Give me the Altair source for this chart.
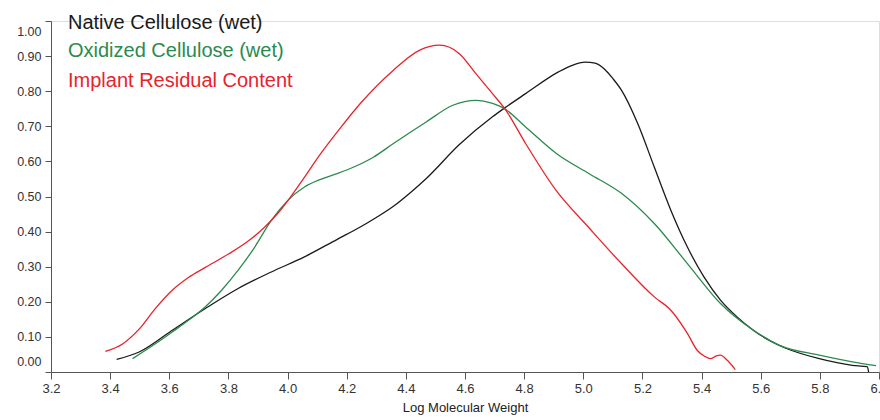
import altair as alt
import pandas as pd

series = ["Native Cellulose (wet)", "Oxidized Cellulose (wet)", "Implant Residual Content"]
colors = ["#1a1a1a", "#2b8a4e", "#e8232b"]

native_x = [3.422, 3.498, 3.610, 3.722, 3.833, 3.945, 4.057, 4.168, 4.246, 4.300, 4.358, 4.414,
            4.470, 4.581, 4.693, 4.732, 4.805, 4.916, 4.960, 5.006, 5.040, 5.073, 5.100, 5.129,
            5.184, 5.240, 5.296, 5.352, 5.408, 5.464, 5.520, 5.575, 5.631, 5.687, 5.798, 5.910,
            5.960, 5.965]
native_y = [0.036, 0.057, 0.119, 0.181, 0.238, 0.285, 0.328, 0.378, 0.413, 0.440, 0.472, 0.510,
            0.552, 0.648, 0.727, 0.751, 0.793, 0.855, 0.873, 0.883, 0.880, 0.862, 0.836, 0.803,
            0.708, 0.584, 0.461, 0.356, 0.271, 0.205, 0.157, 0.119, 0.089, 0.067, 0.038, 0.019,
            0.015, 0.0]

oxid_x = [3.476, 3.554, 3.610, 3.666, 3.722, 3.777, 3.833, 3.889, 3.945, 4.001, 4.057, 4.112,
          4.170, 4.224, 4.290, 4.358, 4.470, 4.559, 4.637, 4.693, 4.732, 4.805, 4.910, 5.020,
          5.129, 5.240, 5.352, 5.464, 5.575, 5.664, 5.798, 5.910, 5.990]
oxid_y = [0.038, 0.081, 0.114, 0.148, 0.186, 0.233, 0.290, 0.356, 0.432, 0.489, 0.527, 0.549,
          0.566, 0.584, 0.612, 0.651, 0.713, 0.760, 0.774, 0.765, 0.751, 0.698, 0.622, 0.565,
          0.509, 0.423, 0.309, 0.195, 0.119, 0.076, 0.048, 0.029, 0.018]

impl_x = [3.384, 3.442, 3.498, 3.554, 3.610, 3.666, 3.722, 3.800, 3.867, 3.923, 3.978, 4.045,
          4.112, 4.180, 4.246, 4.358, 4.447, 4.514, 4.581, 4.637, 4.693, 4.738, 4.805, 4.910,
          5.017, 5.129, 5.240, 5.296, 5.352, 5.385, 5.410, 5.430, 5.450, 5.464, 5.486, 5.514]
impl_y = [0.059, 0.080, 0.122, 0.182, 0.233, 0.270, 0.298, 0.336, 0.373, 0.413, 0.463, 0.540,
          0.622, 0.697, 0.765, 0.860, 0.917, 0.931, 0.907, 0.850, 0.793, 0.746, 0.651, 0.515,
          0.413, 0.309, 0.214, 0.176, 0.110, 0.062, 0.045, 0.038, 0.046, 0.048, 0.034, 0.007]

xs = [native_x, oxid_x, impl_x]
ys = [native_y, oxid_y, impl_y]

rows = []
for s, xv, yv in zip(series, xs, ys):
    for i, (a, b) in enumerate(zip(xv, yv)):
        rows.append({"series": s, "x": a, "y": b, "i": i})
df = pd.DataFrame(rows)

x_ticks = [3.2, 3.4, 3.6, 3.8, 4.0, 4.2, 4.4, 4.6, 4.8, 5.0, 5.2, 5.4, 5.6, 5.8, 6.0]
y_ticks = [0.0, 0.1, 0.2, 0.3, 0.4, 0.5, 0.6, 0.7, 0.8, 0.9, 1.0]

lines = alt.Chart(df).mark_line(strokeWidth=1.3, interpolate="monotone").encode(
    x=alt.X("x:Q", scale=alt.Scale(domain=[3.2, 6.0], nice=False, zero=False),
            axis=alt.Axis(values=x_ticks, format=".1f", title="Log Molecular Weight",
                          grid=False, labelFlush=False, tickSize=7, labelPadding=3,
                          labelFontSize=13, titleFontSize=13, titleFontWeight="normal",
                          titlePadding=6, labelColor="#333", titleColor="#222",
                          domainColor="#555", tickColor="#555", labelFont="Liberation Sans",
                          titleFont="Liberation Sans")),
    y=alt.Y("y:Q", scale=alt.Scale(domain=[0, 1], nice=False),
            axis=alt.Axis(values=y_ticks, format=".2f", title=None, grid=False,
                          labelFlush=True, labelFlushOffset=-4, tickSize=6, labelPadding=4,
                          labelFontSize=12.5, labelColor="#333", domainColor="#555",
                          tickColor="#555", labelFont="Liberation Sans")),
    color=alt.Color("series:N", scale=alt.Scale(domain=series, range=colors), legend=None),
    order="i:Q",
    detail="series:N",
)

legend_layers = []
offsets = [8, 36, 65.5]
for s, c, off in zip(series, colors, offsets):
    legend_layers.append(
        alt.Chart(pd.DataFrame({"t": [s]})).mark_text(
            align="left", baseline="alphabetic", fontSize=20, font="Liberation Sans", color=c
        ).encode(text="t:N", x=alt.value(17), y=alt.value(off))
    )

chart = alt.layer(lines, *legend_layers).properties(
    width=828, height=351,
    autosize=alt.AutoSizeParams(type="none"),
    padding={"left": 51, "top": 21, "right": 1, "bottom": 48},
).configure_view(stroke=None).configure(background="white")

chart.save("out.html", embed_options={"renderer": "svg", "actions": False})
